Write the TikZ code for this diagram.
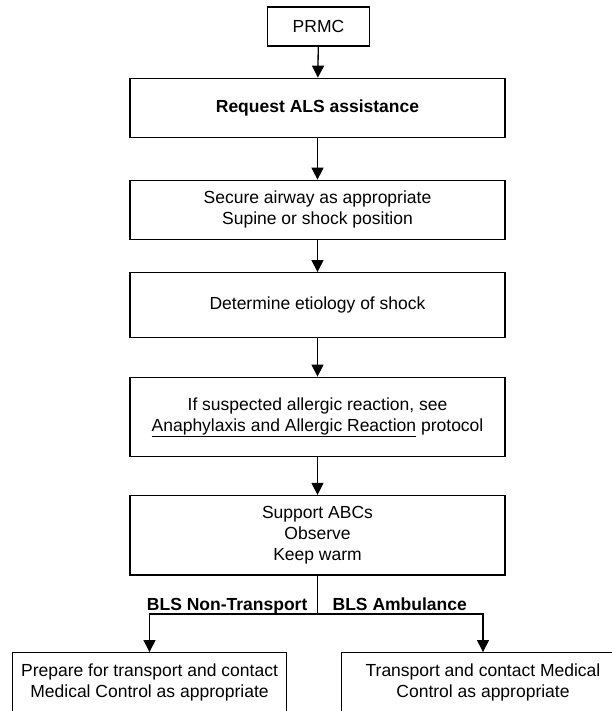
\documentclass[tikz,border=0pt]{standalone}
\usepackage{fontspec}
\setmainfont{Liberation Sans}
\usetikzlibrary{arrows.meta}
\begin{document}
\begin{tikzpicture}[x=1pt,y=-1pt,line width=1.3pt,
    stepbox/.style={draw,align=center,inner sep=0pt,font=\fontsize{17.5}{21}\selectfont},
    mainbox/.style={stepbox,minimum width=375pt},
    branchlabel/.style={inner sep=0pt,font=\fontsize{17.5}{21}\selectfont\bfseries},
    arr/.style={-{Triangle[width=12pt,length=12pt]}}]
        \useasboundingbox (0,0) rectangle (612,711);
        \clip (0,0) rectangle (612,711);

        \node[stepbox,minimum width=102pt,minimum height=39pt] (prmc) at (318.5,26.5) {PRMC};
        \node[mainbox,minimum height=59.5pt,font=\fontsize{17.5}{21}\selectfont\bfseries] (als) at (317.5,108) {Request ALS assistance};
        \node[mainbox,minimum height=59pt] (airway) at (317.5,209.8) {Secure airway as appropriate\\Supine or shock position};
        \node[mainbox,minimum height=65pt] (etiology) at (317.5,305.2) {Determine etiology of shock};
        \node[mainbox,minimum height=79.5pt] (allergy) at (317.5,417) {If suspected allergic reaction, see\\\underline{Anaphylaxis and Allergic Reaction} protocol};
        \node[mainbox,minimum height=79.5pt] (abc) at (317.5,535.3) {Support ABCs\\Observe\\Keep warm};

        \node[stepbox,minimum width=274.4pt,minimum height=60pt] (nontransport) at (149.5,682.7) {Prepare for transport and contact\\Medical Control as appropriate};
        \node[stepbox,minimum width=282.6pt,minimum height=60pt] (ambulance) at (483,682.7) {Transport and contact Medical\\Control as appropriate};

        \coordinate (split) at (317.5,614);
        \node[branchlabel,anchor=base east] (ntlabel) at (308,610) {BLS Non-Transport};
        \node[branchlabel,anchor=base west] (amblabel) at (332,610) {BLS Ambulance};

        \draw[arr] (prmc) -- (als);
        \draw[arr] (als) -- (airway);
        \draw[arr] (airway) -- (etiology);
        \draw[arr] (etiology) -- (allergy);
        \draw[arr] (allergy) -- (abc);
        \draw (abc.south) -- (split);
        \draw[arr] (split) -| (nontransport.north);
        \draw[arr] (split) -| (ambulance.north);
    \end{tikzpicture}
\end{document}
